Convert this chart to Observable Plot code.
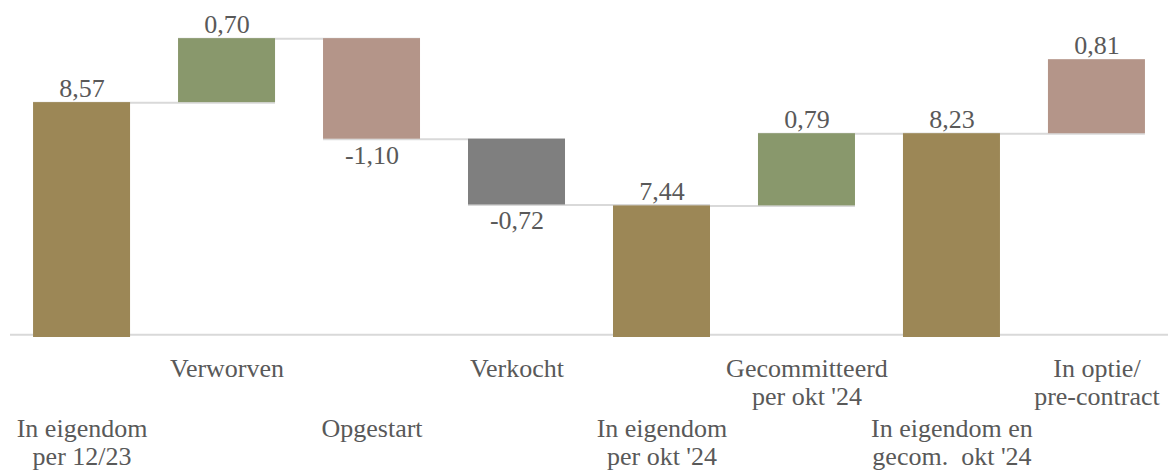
<!DOCTYPE html>
<html>
<head>
<meta charset="utf-8">
<script src="https://cdn.jsdelivr.net/npm/d3@7"></script>
<script src="https://cdn.jsdelivr.net/npm/@observablehq/plot@0.6"></script>
<style>
  html, body { margin: 0; padding: 0; background: #fff; }
  #chart { width: 1168px; height: 472px; }
</style>
</head>
<body>
<div id="chart"></div>
<script>
const categories = [
  "In eigendom\nper 12/23",
  "Verworven",
  "Opgestart",
  "Verkocht",
  "In eigendom\nper okt '24",
  "Gecommitteerd\nper okt '24",
  "In eigendom en\ngecom.  okt '24",
  "In optie/\npre-contract"
];
const values = [8.57, 0.70, -1.10, -0.72, 7.44, 0.79, 8.23, 0.81];
const kinds = ["total", "delta", "delta", "delta", "total", "delta", "total", "delta"];
const groups = ["total", "acquired", "started", "sold", "total", "committed", "total", "option"];
const valueLabels = ["8,57", "0,70", "-1,10", "-0,72", "7,44", "0,79", "8,23", "0,81"];

const base = 6;
let running = 0;
const rows = categories.map((c, i) => {
  let y1, y2;
  if (kinds[i] === "total") { y1 = base; y2 = values[i]; running = values[i]; }
  else { y1 = running; y2 = running + values[i]; running = y2; }
  return {cat: c, idx: i, y1, y2, end: running, value: values[i], label: valueLabels[i], group: groups[i],
          top: Math.max(y1, y2), bottom: Math.min(y1, y2)};
});
const connectors = rows.slice(0, -1).map((r, i) => ({a: r.cat, b: rows[i + 1].cat, level: r.end}));

const font = "'Liberation Serif', 'Times New Roman', serif";
const textColor = "#595959";

const chart = Plot.plot({
  width: 1168,
  height: 472,
  marginLeft: 10,
  marginRight: 0,
  marginTop: 8,
  marginBottom: 135,
  style: {fontFamily: font, background: "#fff"},
  x: {domain: categories, paddingInner: 0.331, paddingOuter: 0.159, round: false, axis: null},
  y: {domain: [6, 9.6], axis: null},
  color: {
    domain: ["total", "acquired", "started", "sold", "committed", "option"],
    range: ["#9C8756", "#89986C", "#B49589", "#7F7F7F", "#89986C", "#B49589"]
  },
  marks: [
    Plot.ruleY([6.03], {stroke: "#D9D9D9", strokeWidth: 2}),
    Plot.ruleY(connectors, {x1: "a", x2: "b", y: "level", stroke: "#D9D9D9", strokeWidth: 2}),
    Plot.barY(rows, {x: "cat", y1: "y1", y2: "y2", fill: "group"}),
    Plot.text(rows.filter(d => d.value >= 0), {
      x: "cat", y: "top", text: "label", lineAnchor: "bottom", dy: -6,
      fontSize: 26, fontFamily: font, fill: textColor
    }),
    Plot.text(rows.filter(d => d.value < 0), {
      x: "cat", y: "bottom", text: "label", lineAnchor: "top", dy: 6,
      fontSize: 26, fontFamily: font, fill: textColor
    }),
    Plot.text(rows.filter(d => d.idx % 2 === 1), {
      x: "cat", y: () => base, text: "cat", lineAnchor: "top", dy: 19.5,
      lineHeight: 1.07, fontSize: 26, fontFamily: font, fill: textColor
    }),
    Plot.text(rows.filter(d => d.idx % 2 === 0), {
      x: "cat", y: () => base, text: "cat", lineAnchor: "top", dy: 79.5,
      lineHeight: 1.07, fontSize: 26, fontFamily: font, fill: textColor
    })
  ]
});
document.getElementById("chart").appendChild(chart);
</script>
</body>
</html>
